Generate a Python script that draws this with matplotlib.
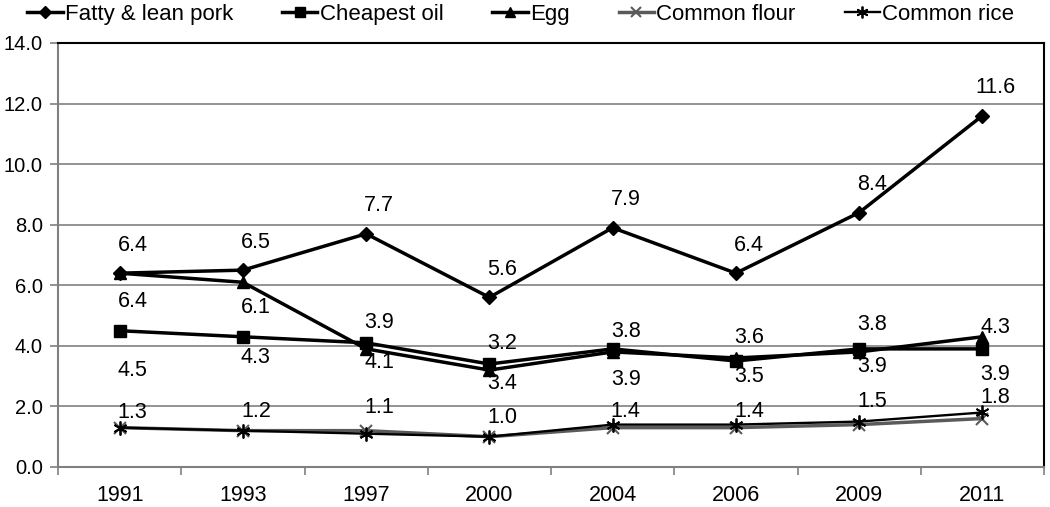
import numpy as np
import matplotlib.pyplot as plt

plt.rcParams['font.family'] = ['Liberation Sans', 'DejaVu Sans']

years = ['1991', '1993', '1997', '2000', '2004', '2006', '2009', '2011']
pork = [6.4, 6.5, 7.7, 5.6, 7.9, 6.4, 8.4, 11.6]
oil = [4.5, 4.3, 4.1, 3.4, 3.9, 3.5, 3.9, 3.9]
egg = [6.4, 6.1, 3.9, 3.2, 3.8, 3.6, 3.8, 4.3]
flour = [1.3, 1.2, 1.2, 1.0, 1.3, 1.3, 1.4, 1.6]
rice = [1.3, 1.2, 1.1, 1.0, 1.4, 1.4, 1.5, 1.8]

# label offsets in pixels (dy up from the point)
pork_dy = [28] * 8
egg_dy = [-28, -25, 26, 27, 20, 20, 27, 9]
oil_dy = [-40, -21, -20, -19, -31, -16, -18, -26]
rice_dy = [15, 19, 26, 19, 13, 13, 20, 15]

fig = plt.figure(figsize=(10.5, 5.07), dpi=100)
ax = fig.add_axes([58 / 1050, 40 / 507, 986 / 1050, 424 / 507])

x = np.arange(len(years))
lw = 2.5
ax.plot(x, flour, color='#5a5a5a', lw=lw, marker='x', ms=9, mew=1.5, label='Common flour', zorder=3)
ax.plot(x, rice, color='black', lw=1.7, marker=(6, 2, 0), ms=10, mew=1.3, label='Common rice', zorder=4)
ax.plot(x, egg, color='black', lw=lw, marker='^', ms=9, label='Egg', zorder=4)
ax.plot(x, oil, color='black', lw=lw, marker='s', ms=9, label='Cheapest oil', zorder=5)
ax.plot(x, pork, color='black', lw=lw, marker='D', ms=7, label='Fatty & lean pork', zorder=5)

def put_labels(vals, dys, dx=13):
    for xi, v, dy in zip(x, vals, dys):
        ax.annotate(f'{v:.1f}', (xi, v), xytext=(dx, dy), textcoords='offset pixels',
                    ha='center', va='center', fontsize=15.5, zorder=6)

put_labels(pork, pork_dy)
put_labels(egg, egg_dy)
put_labels(oil, oil_dy)
put_labels(rice, rice_dy)

ax.set_xlim(-0.5, 7.5)
ax.set_ylim(0, 14)
ax.set_yticks(np.arange(0, 15, 2))
ax.set_yticklabels([f'{v:.1f}' for v in np.arange(0, 15, 2)], fontsize=14.5)
ax.set_xticks(x)
ax.set_xticklabels(years, fontsize=15.5)
ax.set_xticks(np.arange(-0.5, 8, 1), minor=True)
ax.tick_params(axis='x', which='major', length=0, pad=13)
ax.tick_params(axis='x', which='minor', length=6, color='#808080', width=1.2)
ax.tick_params(axis='y', length=6, color='#808080', width=1.2, pad=5)
ax.yaxis.grid(True, color='#808080', lw=1.2)
ax.set_axisbelow(True)
for s in ['left', 'bottom']:
    ax.spines[s].set_color('#808080')
    ax.spines[s].set_linewidth(1.5)
for s in ['top', 'right']:
    ax.spines[s].set_color('black')
    ax.spines[s].set_linewidth(1.5)

handles, labels = ax.get_legend_handles_labels()
order = ['Fatty & lean pork', 'Cheapest oil', 'Egg', 'Common flour', 'Common rice']
hmap = dict(zip(labels, handles))
fig.legend([hmap[k] for k in order], order, loc='center left', bbox_to_anchor=(27 / 1050, 0.972),
           ncol=5, frameon=False, fontsize=16, handlelength=1.6, handletextpad=0.1,
           columnspacing=2.2, markerscale=0.85, borderaxespad=0, borderpad=0)

fig.savefig('out.png', dpi=100)
